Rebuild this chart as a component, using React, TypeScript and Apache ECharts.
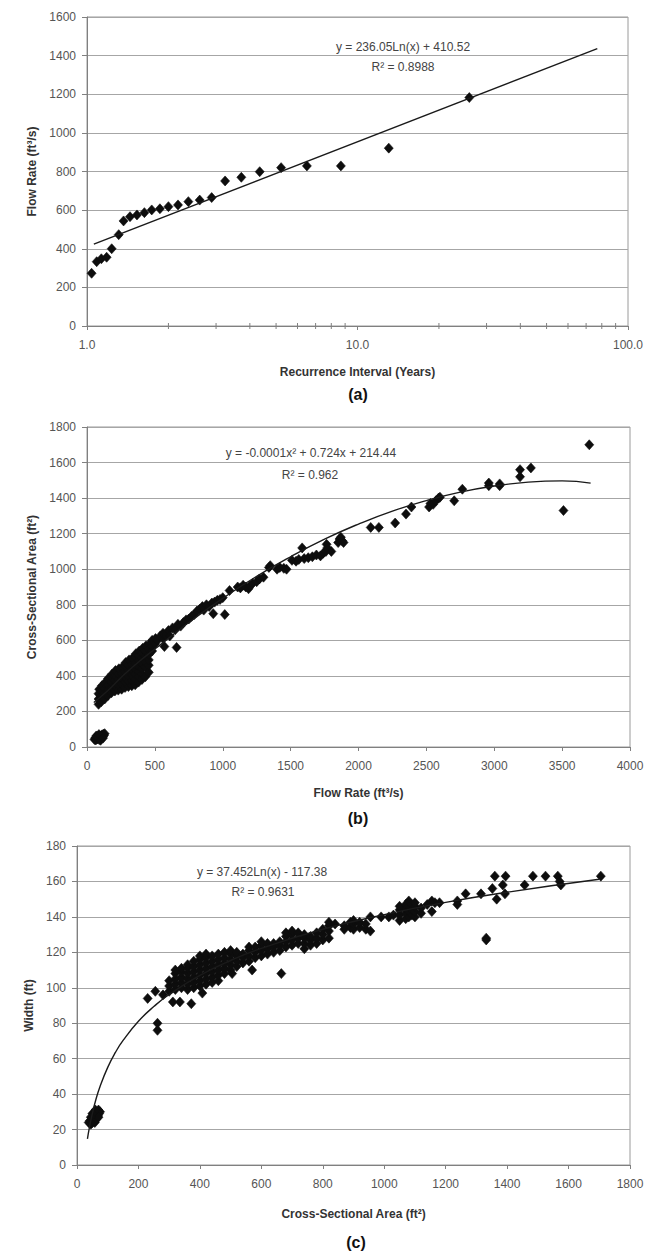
import React, { useEffect, useRef } from 'react';
import * as echarts from 'echarts';

// ---------- Chart (a): recurrence interval vs flow rate ----------
const recurrenceA = [1.04, 1.086, 1.13, 1.182, 1.234, 1.31, 1.365, 1.442, 1.53, 1.63, 1.735, 1.86, 2.0, 2.17, 2.37, 2.61, 2.89, 3.24, 3.72, 4.35, 5.22, 6.5, 8.68, 13.05, 25.9];
const flowA = [273, 333, 348, 356, 400, 473, 544, 566, 575, 587, 601, 607, 618, 627, 644, 652, 665, 751, 770, 799, 820, 829, 829, 921, 1183];
const trendA: [number, number][] = [[1.06, 424], [77, 1436]];
const minorTicksA = [2, 3, 4, 5, 6, 7, 8, 9, 20, 30, 40, 50, 60, 70, 80, 90];
const yTicksA = { min: 0, max: 1600, interval: 200 };

// ---------- Chart (b): flow rate vs cross-sectional area ----------
const pointsB: [number, number][] = [
  [55, 42], [60, 50], [65, 40], [70, 55], [75, 45], [80, 60], [85, 50], [90, 42], [95, 62], [100, 55], [105, 48], [110, 68], [115, 60], [120, 72], [125, 65], [130, 75], [68, 62], [88, 70], [100, 38], [118, 50],
  [85, 240], [85, 270], [85, 300], [90, 325],
  [105, 255], [105, 285], [105, 315], [110, 345],
  [130, 270], [130, 300], [130, 330], [130, 360],
  [155, 290], [155, 320], [155, 350], [155, 385],
  [180, 305], [180, 335], [180, 365], [180, 395], [185, 410],
  [205, 315], [205, 345], [205, 375], [205, 405], [210, 430],
  [230, 320], [230, 350], [230, 380], [230, 410], [235, 440],
  [255, 325], [255, 355], [255, 385], [255, 415], [260, 450],
  [280, 335], [280, 365], [280, 395], [280, 425], [280, 455], [285, 475],
  [305, 340], [305, 370], [305, 400], [305, 430], [305, 460], [310, 490],
  [330, 345], [330, 375], [330, 405], [330, 435], [330, 465], [335, 500],
  [355, 350], [355, 380], [355, 410], [355, 440], [355, 470], [355, 505], [360, 525],
  [380, 365], [380, 395], [380, 425], [380, 455], [380, 485], [380, 515], [385, 540],
  [405, 380], [405, 410], [405, 440], [405, 470], [405, 500], [405, 530], [410, 555],
  [430, 395], [430, 450], [430, 480], [430, 510], [430, 540], [435, 570],
  [455, 420], [455, 460], [455, 490], [455, 520], [455, 550], [460, 580],
  [480, 540], [480, 570], [480, 600],
  [500, 580], [505, 610], [520, 600], [540, 625], [560, 610], [560, 640], [580, 630], [600, 655], [610, 625], [630, 670], [650, 660], [670, 690], [690, 680], [710, 700], [730, 715], [750, 720], [770, 735], [790, 745], [810, 765], [830, 775], [850, 790], [860, 770], [880, 800], [900, 790], [920, 810], [940, 815], [960, 825], [980, 830], [1000, 840],
  [570, 565], [660, 560], [930, 750], [1015, 745],
  [1050, 880], [1110, 900], [1130, 895], [1150, 910], [1170, 900], [1190, 890], [1200, 905], [1220, 920], [1250, 930], [1270, 945], [1300, 955], [1340, 1010], [1350, 1020], [1400, 1000], [1420, 1010], [1450, 1005], [1470, 1000], [1510, 1050], [1540, 1045], [1560, 1055], [1585, 1120], [1600, 1060], [1630, 1065], [1660, 1070], [1690, 1080], [1720, 1075], [1740, 1090], [1760, 1100], [1765, 1140], [1770, 1120], [1800, 1100], [1850, 1150], [1860, 1170], [1870, 1180], [1880, 1160], [1890, 1150],
  [2090, 1235], [2150, 1235], [2270, 1260], [2350, 1310], [2390, 1350], [2520, 1350], [2530, 1370], [2550, 1365], [2570, 1385], [2590, 1400], [2600, 1405], [2705, 1385], [2765, 1450], [2960, 1485], [2960, 1470], [3040, 1480], [3040, 1470], [3190, 1560], [3190, 1520], [3270, 1570], [3510, 1330], [3700, 1700],
];
const trendB: [number, number][] = [[50, 250], [150, 315], [250, 390], [375, 475], [500, 551], [750, 700], [1000, 836], [1250, 960], [1500, 1070], [1750, 1169], [2000, 1254], [2250, 1327], [2500, 1386], [2750, 1434], [3000, 1468], [3250, 1490], [3500, 1497], [3710, 1484]];
const xTicksB = { min: 0, max: 4000, interval: 500 };
const yTicksB = { min: 0, max: 1800, interval: 200 };

// ---------- Chart (c): cross-sectional area vs width ----------
const pointsC: [number, number][] = [
  [38, 24], [42, 25], [45, 23], [48, 26], [50, 24], [52, 27], [55, 25], [55, 28], [58, 24], [60, 27], [62, 29], [63, 26], [65, 30], [68, 28], [70, 31], [72, 29], [75, 30], [70, 27], [60, 31], [50, 29], [45, 27],
  [230, 94], [255, 98], [262, 80], [262, 76], [280, 96], [312, 92], [335, 92], [372, 91], [408, 97], [505, 108], [570, 110], [665, 108],
  [300, 98], [300, 101], [300, 104],
  [320, 99], [320, 102], [320, 105], [320, 108], [320, 110],
  [340, 100], [340, 103], [340, 106], [340, 109], [340, 111],
  [360, 99], [360, 102], [360, 105], [360, 108], [360, 111], [360, 113],
  [380, 100], [380, 103], [380, 106], [380, 109], [380, 112], [380, 115],
  [400, 101], [400, 104], [400, 107], [400, 110], [400, 113], [400, 116], [400, 118],
  [420, 102], [420, 105], [420, 108], [420, 111], [420, 114], [420, 117], [420, 119],
  [440, 103], [440, 106], [440, 109], [440, 112], [440, 115], [440, 118],
  [460, 104], [460, 107], [460, 110], [460, 113], [460, 116], [460, 119],
  [480, 108], [480, 111], [480, 114], [480, 117], [480, 120],
  [500, 110], [500, 113], [500, 116], [500, 119], [500, 121],
  [520, 112], [520, 115], [520, 118], [520, 120],
  [540, 114], [540, 117], [540, 119],
  [560, 115], [560, 118], [560, 121], [560, 123],
  [580, 117], [580, 120], [580, 123],
  [600, 118], [600, 121], [600, 124], [600, 126],
  [620, 119], [620, 122], [620, 125],
  [640, 120], [640, 123], [640, 125],
  [660, 121], [660, 124], [660, 126],
  [680, 123], [680, 126], [680, 129], [680, 131],
  [700, 124], [700, 127], [700, 130], [700, 132],
  [720, 125], [720, 128], [720, 131],
  [740, 122], [740, 125], [740, 128], [740, 130],
  [760, 124], [760, 127], [760, 129],
  [780, 125], [780, 128], [780, 131],
  [800, 127], [800, 130], [800, 133],
  [820, 128], [820, 132], [820, 135], [820, 137],
  [840, 136], [870, 133], [870, 135], [890, 134], [890, 137],
  [900, 133], [900, 136], [900, 138], [920, 134], [920, 137], [940, 133], [940, 136],
  [955, 132], [955, 140], [990, 140], [1015, 140], [1030, 141],
  [1050, 138], [1050, 141], [1050, 144], [1050, 146],
  [1070, 139], [1070, 142], [1070, 145], [1070, 147],
  [1080, 140], [1080, 143], [1080, 146], [1080, 149],
  [1090, 141], [1090, 144], [1090, 147],
  [1100, 140], [1100, 143], [1100, 146], [1100, 148],
  [1120, 142], [1120, 145], [1140, 147], [1155, 143], [1155, 149], [1165, 148], [1180, 148],
  [1238, 147], [1238, 149], [1265, 153], [1315, 153], [1332, 128], [1332, 127],
  [1352, 156], [1360, 163], [1366, 150], [1386, 158], [1393, 153], [1395, 163],
  [1457, 158], [1484, 163], [1525, 163], [1565, 163], [1571, 160], [1575, 158], [1705, 163],
];
const trendC: [number, number][] = [[34, 14.7], [40, 20.8], [50, 29.1], [60, 36], [75, 44.3], [100, 55.1], [125, 63.5], [150, 70.3], [200, 81.1], [250, 89.4], [300, 96.2], [400, 107.0], [500, 115.4], [600, 122.2], [800, 133.0], [1000, 141.3], [1200, 148.2], [1400, 153.9], [1700, 161.2]];
const xTicksC = { min: 0, max: 1800, interval: 200 };
const yTicksC = { min: 0, max: 180, interval: 20 };

const FONT = '"Liberation Sans", Arial, Helvetica, sans-serif';
const AXIS_GRAY = '#808080';
const GRID_GRAY = '#a6a6a6';
const LABEL_COLOR = '#555';
const TITLE_COLOR = '#333';

const plain = (v: number) => String(v);

function xAxisBase(gridIndex: number, name: string) {
  return {
    gridIndex,
    name,
    nameLocation: 'middle',
    nameGap: 40,
    nameTextStyle: { fontFamily: FONT, fontSize: 12, fontWeight: 'bold', color: TITLE_COLOR },
    axisLine: { show: true, lineStyle: { color: AXIS_GRAY, width: 1 } },
    axisTick: { show: true, length: 4, lineStyle: { color: AXIS_GRAY } },
    splitLine: { show: false },
    axisLabel: { fontFamily: FONT, fontSize: 12, color: LABEL_COLOR, margin: 13, formatter: plain },
  };
}

function yAxisBase(gridIndex: number, name: string, nameGap: number, ticks: { min: number; max: number; interval: number }) {
  return {
    gridIndex,
    type: 'value',
    ...ticks,
    name,
    nameLocation: 'middle',
    nameGap,
    nameTextStyle: { fontFamily: FONT, fontSize: 12, fontWeight: 'bold', color: TITLE_COLOR },
    axisLine: { show: true, lineStyle: { color: AXIS_GRAY, width: 1 } },
    axisTick: { show: true, length: 5, lineStyle: { color: AXIS_GRAY } },
    splitLine: { show: true, lineStyle: { color: GRID_GRAY, width: 1 } },
    axisLabel: { fontFamily: FONT, fontSize: 12, color: LABEL_COLOR, margin: 11, formatter: plain },
  };
}

const gridBase = { show: true, borderColor: '#9a9a9a', borderWidth: 1, backgroundColor: 'transparent', containLabel: false, outerBoundsMode: 'none' };

function scatterSeries(xi: number, data: [number, number][]) {
  return {
    type: 'scatter',
    xAxisIndex: xi,
    yAxisIndex: xi,
    data,
    symbol: 'diamond',
    symbolSize: [9, 10],
    itemStyle: { color: '#0d0d0d', opacity: 1, borderColor: '#0d0d0d', borderWidth: 0.6 },
    silent: true,
    z: 2,
  };
}

function trendSeries(xi: number, data: [number, number][], smooth: boolean) {
  return {
    type: 'line',
    xAxisIndex: xi,
    yAxisIndex: xi,
    data,
    smooth,
    showSymbol: false,
    symbol: 'none',
    lineStyle: { color: '#1a1a1a', width: 1.4 },
    silent: true,
    z: 3,
  };
}

function txt(x: number, y: number, text: string, font: string, fill: string) {
  return { type: 'text', x, y, silent: true, style: { text, font, fill, align: 'center', verticalAlign: 'middle' } };
}

const option = {
  animation: false,
  backgroundColor: '#ffffff',
  grid: [
    { ...gridBase, left: 87, top: 17, width: 541, height: 309 },
    { ...gridBase, left: 87, top: 427, width: 543, height: 320 },
    { ...gridBase, left: 77, top: 846, width: 553, height: 319 },
  ],
  xAxis: [
    {
      ...xAxisBase(0, 'Recurrence Interval (Years)'),
      type: 'log',
      logBase: 10,
      min: 1,
      max: 100,
      axisLabel: { fontFamily: FONT, fontSize: 12, color: LABEL_COLOR, margin: 13, formatter: (v: number) => Number(v).toFixed(1) },
    },
    { ...xAxisBase(1, 'Flow Rate (ft³/s)'), type: 'value', ...xTicksB },
    { ...xAxisBase(2, 'Cross-Sectional Area (ft²)'), type: 'value', ...xTicksC, nameGap: 43 },
  ],
  yAxis: [
    yAxisBase(0, 'Flow Rate (ft³/s)', 47, yTicksA),
    yAxisBase(1, 'Cross-Sectional Area (ft²)', 46, yTicksB),
    yAxisBase(2, 'Width (ft)', 40, yTicksC),
  ],
  series: [
    scatterSeries(0, recurrenceA.map((x, i) => [x, flowA[i]] as [number, number])),
    trendSeries(0, trendA, false),
    {
      type: 'custom',
      xAxisIndex: 0,
      yAxisIndex: 0,
      silent: true,
      data: minorTicksA.map((v) => [v, 0]),
      renderItem: (_params: any, api: any) => {
        const p = api.coord([api.value(0), 0]);
        return {
          type: 'line',
          shape: { x1: p[0], y1: p[1] - 3, x2: p[0], y2: p[1] + 3 },
          style: { stroke: AXIS_GRAY, lineWidth: 1 },
        };
      },
      z: 4,
    },
    scatterSeries(1, pointsB),
    trendSeries(1, trendB, true),
    scatterSeries(2, pointsC),
    trendSeries(2, trendC, true),
  ],
  graphic: [
    txt(403, 47, 'y = 236.05Ln(x) + 410.52', `12px ${FONT}`, '#444'),
    txt(403, 67, 'R² = 0.8988', `12px ${FONT}`, '#444'),
    txt(358, 394, '(a)', `bold 16px ${FONT}`, '#111'),
    txt(311, 453, 'y = -0.0001x² + 0.724x + 214.44', `12px ${FONT}`, '#444'),
    txt(310, 475, 'R² = 0.962', `12px ${FONT}`, '#444'),
    txt(358, 818, '(b)', `bold 16px ${FONT}`, '#111'),
    txt(262, 872, 'y = 37.452Ln(x) - 117.38', `12px ${FONT}`, '#444'),
    txt(263, 892, 'R² = 0.9631', `12px ${FONT}`, '#444'),
    txt(356, 1242, '(c)', `bold 16px ${FONT}`, '#111'),
  ],
};

export default function App() {
  const ref = useRef<HTMLDivElement>(null);
  useEffect(() => {
    if (!ref.current) return;
    const chart = echarts.init(ref.current, null, { renderer: 'svg' });
    chart.setOption(option as any);
    return () => chart.dispose();
  }, []);
  return (
    <div
      ref={ref}
      style={{ position: 'absolute', left: 0, top: 0, width: 648, height: 1251, background: '#fff' }}
    />
  );
}
